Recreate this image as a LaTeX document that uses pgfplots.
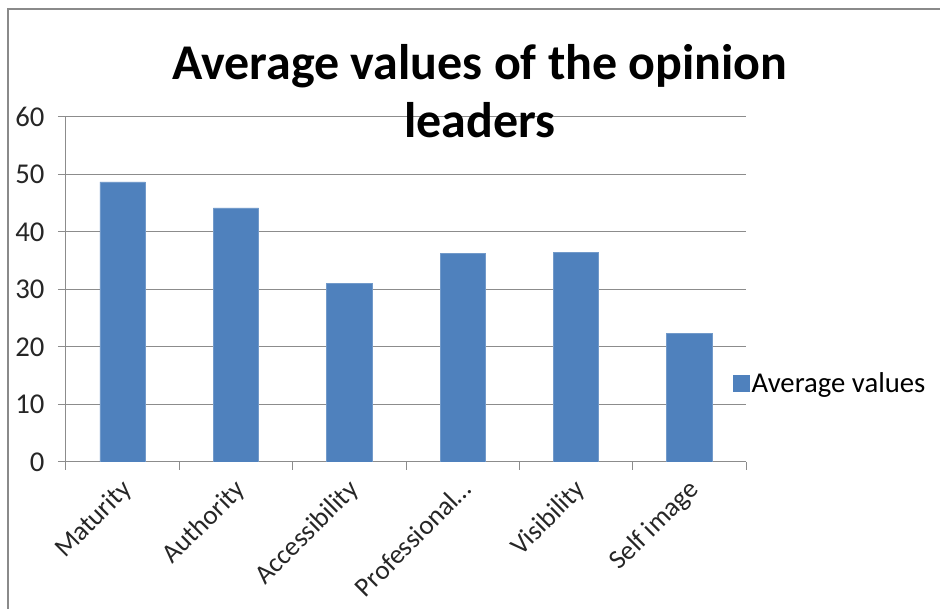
\documentclass[border=0pt]{standalone}
\usepackage{pgfplots}
\pgfplotsset{compat=1.18}
\usepackage{fontspec}
\setmainfont{Carlito}
\definecolor{barblue}{HTML}{4F81BD}
\definecolor{gridgray}{HTML}{8C8C8C}
\definecolor{framegray}{HTML}{8A8A8A}
\begin{document}
\begin{tikzpicture}
\draw[framegray, line width=1.8pt] (8pt,-30pt) rectangle (980pt,600pt);
\begin{axis}[
  at={(66pt,147pt)}, anchor=south west,
  scale only axis, width=680pt, height=345pt,
  xmin=-0.5, xmax=5.5, ymin=0, ymax=60,
  ytick={0,10,...,60},
  xtick={0,...,5},
  xticklabels={Maturity,Authority,Accessibility,Professional\ldots,Visibility,Self image},
  minor xtick={-0.5,0.5,...,5.5},
  axis x line*=bottom, axis y line*=left,
  axis line style={gridgray, line width=1pt, -},
  ymajorgrids, major grid style={gridgray, line width=1pt},
  tick align=outside,
  major tick length=8pt, minor tick length=8pt,
  x tick style={draw=none},
  minor x tick style={draw=gridgray, line width=1pt},
  y tick style={gridgray, line width=1pt},
  tick label style={font=\fontsize{28.7}{32}\selectfont, text=black!85},
  /pgf/number format/assume math mode=true,
  yticklabel style={xshift=-10pt},
  xticklabel style={font=\fontsize{27}{30}\selectfont, rotate=45, anchor=north east, xshift=-4pt, yshift=0pt},
  legend style={at={(0.981,0.229)}, anchor=west, draw=none, fill=none,
    font=\fontsize{28.7}{32}\selectfont, inner sep=0pt,
    legend cell align=left},
  legend image code/.code={\fill[barblue] (0pt,-8pt) rectangle (16pt,8pt);},
]
\addplot[ybar, bar width=0.4, fill=barblue, draw=barblue!80!white]
  coordinates {(0,48.7) (1,44.2) (2,31.1) (3,36.3) (4,36.5) (5,22.4)};
\addlegendentry{Average values}
\end{axis}
\node[font=\fontsize{50}{58}\selectfont\bfseries, align=center, text=black] at (480pt,518pt) {Average values of the opinion\\leaders};
\pgfresetboundingbox
\useasboundingbox (0pt,0pt) rectangle (940pt,609pt);
\end{tikzpicture}
\end{document}
